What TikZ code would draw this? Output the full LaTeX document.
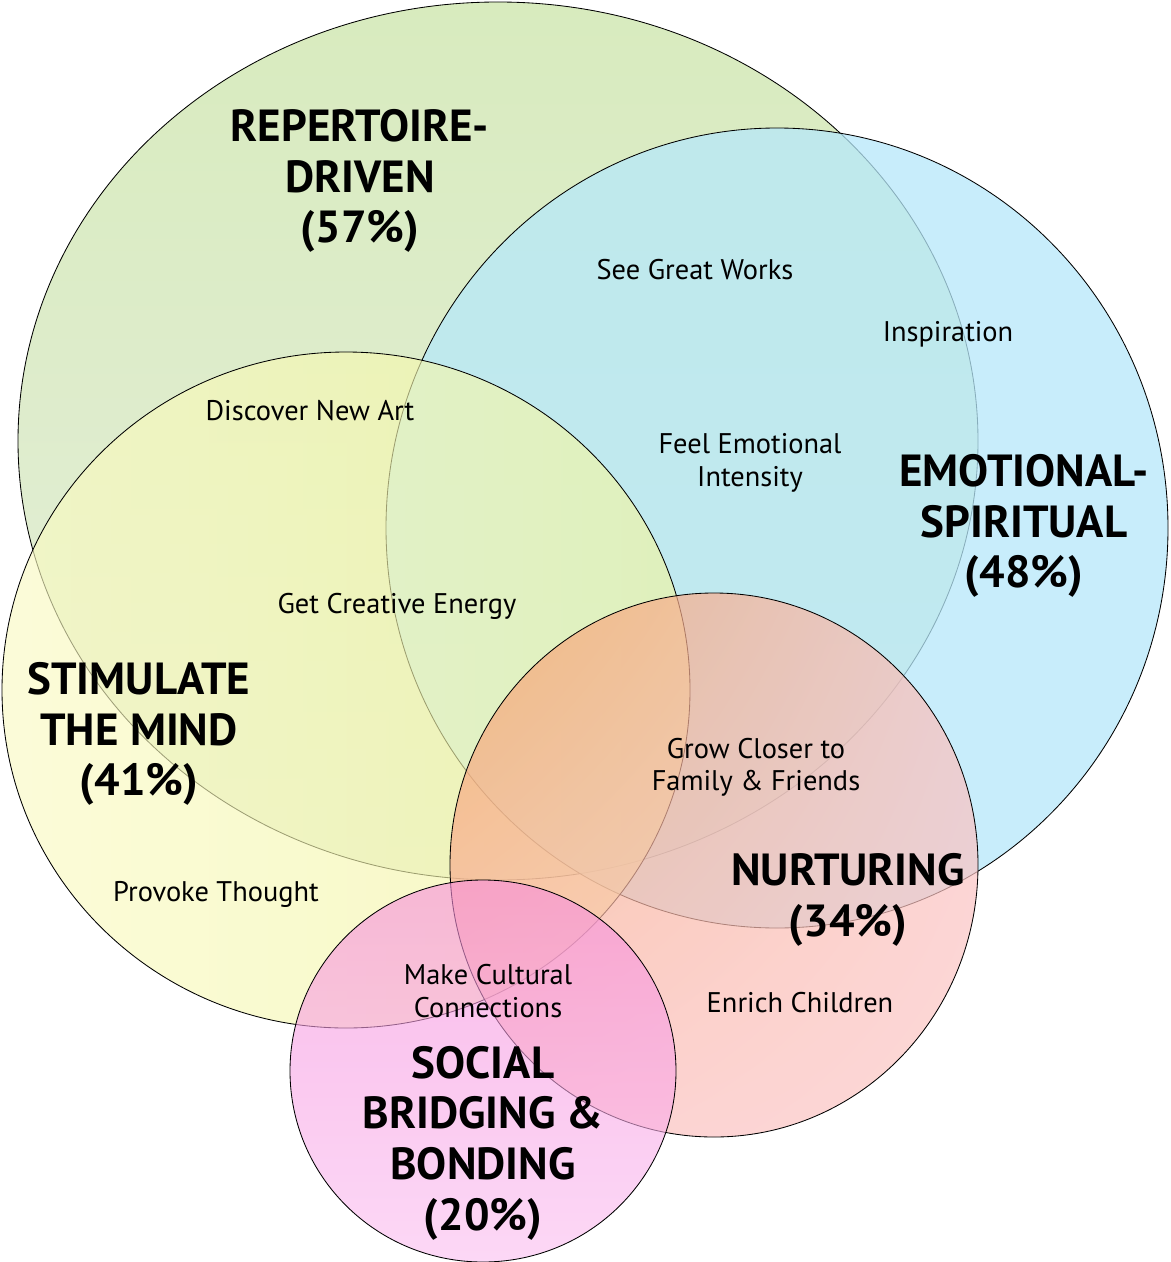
\documentclass[tikz,border=0pt]{standalone}
\usepackage{fontspec}
\usetikzlibrary{shadings}
\setmainfont{PT Sans}
\definecolor{repTop}{RGB}{216,235,190}
\definecolor{repBot}{RGB}{229,238,220}
\definecolor{emoFill}{RGB}{182,232,250}
\definecolor{mindLeft}{RGB}{250,250,195}
\definecolor{mindRight}{RGB}{242,245,160}
\definecolor{nurUL}{RGB}{245,160,100}
\definecolor{nurUR}{RGB}{251,192,192}
\definecolor{nurLL}{RGB}{251,190,188}
\definecolor{nurLR}{RGB}{252,200,200}
\definecolor{socTop}{RGB}{247,140,220}
\definecolor{socBot}{RGB}{250,190,240}
\begin{document}
\begin{tikzpicture}[x=0.025cm,y=-0.025cm,
	idea/.style={align=center,font=\fontsize{20.2}{23}\selectfont},
	heading/.style={align=center,font=\fontsize{32}{36}\selectfont\bfseries},
	rim/.style={draw=black,line width=0.6pt}]
	\useasboundingbox (0,0) rectangle (1170,1262);
	\fill[white] (0,0) rectangle (1170,1262);

	\coordinate (rep) at (498,441);
	\coordinate (emo) at (777,528);
	\coordinate (mind) at (346,690);
	\coordinate (nur) at (714,865);
	\coordinate (soc) at (483,1071);

	\shade[top color=repTop,bottom color=repBot] (rep) ellipse [x radius=480,y radius=439];
	\draw[rim] (rep) ellipse [x radius=480,y radius=439];
	\fill[emoFill,fill opacity=0.75] (emo) ellipse [x radius=391,y radius=400];
	\draw[rim] (emo) ellipse [x radius=391,y radius=400];
	\shade[left color=mindLeft,right color=mindRight,fill opacity=0.64] (mind) ellipse [x radius=344,y radius=338];
	\draw[rim] (mind) ellipse [x radius=344,y radius=338];
	\shade[upper left=nurUL,upper right=nurUR,lower left=nurLL,lower right=nurLR,fill opacity=0.7] (nur) ellipse [x radius=264,y radius=272];
	\draw[rim] (nur) ellipse [x radius=264,y radius=272];
	\shade[top color=socTop,bottom color=socBot,fill opacity=0.6] (soc) ellipse [x radius=193,y radius=191];
	\draw[rim] (soc) ellipse [x radius=193,y radius=191];

	\node[heading] (repHead) at (360,181) {REPERTOIRE-\\DRIVEN\\(57\%)};
	\node[heading] (emoHead) at (1024,526) {EMOTIONAL-\\SPIRITUAL\\(48\%)};
	\node[heading] (mindHead) at (139,734) {STIMULATE\\THE MIND\\(41\%)};
	\node[heading] (nurHead) at (848,900) {NURTURING\\(34\%)};
	\node[heading] (socHead) at (483,1143) {SOCIAL\\BRIDGING \&\\BONDING\\(20\%)};

	\node[idea] (great) at (695,270) {See Great Works};
	\node[idea] (inspire) at (948,334) {Inspiration};
	\node[idea] (discover) at (310,411) {Discover New Art};
	\node[idea] (feel) at (750,463) {Feel Emotional\\Intensity};
	\node[idea] (creative) at (397,606) {Get Creative Energy};
	\node[idea] (closer) at (756,767) {Grow Closer to\\Family \& Friends};
	\node[idea] (provoke) at (216,894) {Provoke Thought};
	\node[idea] (cultural) at (488,991) {Make Cultural\\Connections};
	\node[idea] (enrich) at (800,1003) {Enrich Children};
\end{tikzpicture}
\end{document}
